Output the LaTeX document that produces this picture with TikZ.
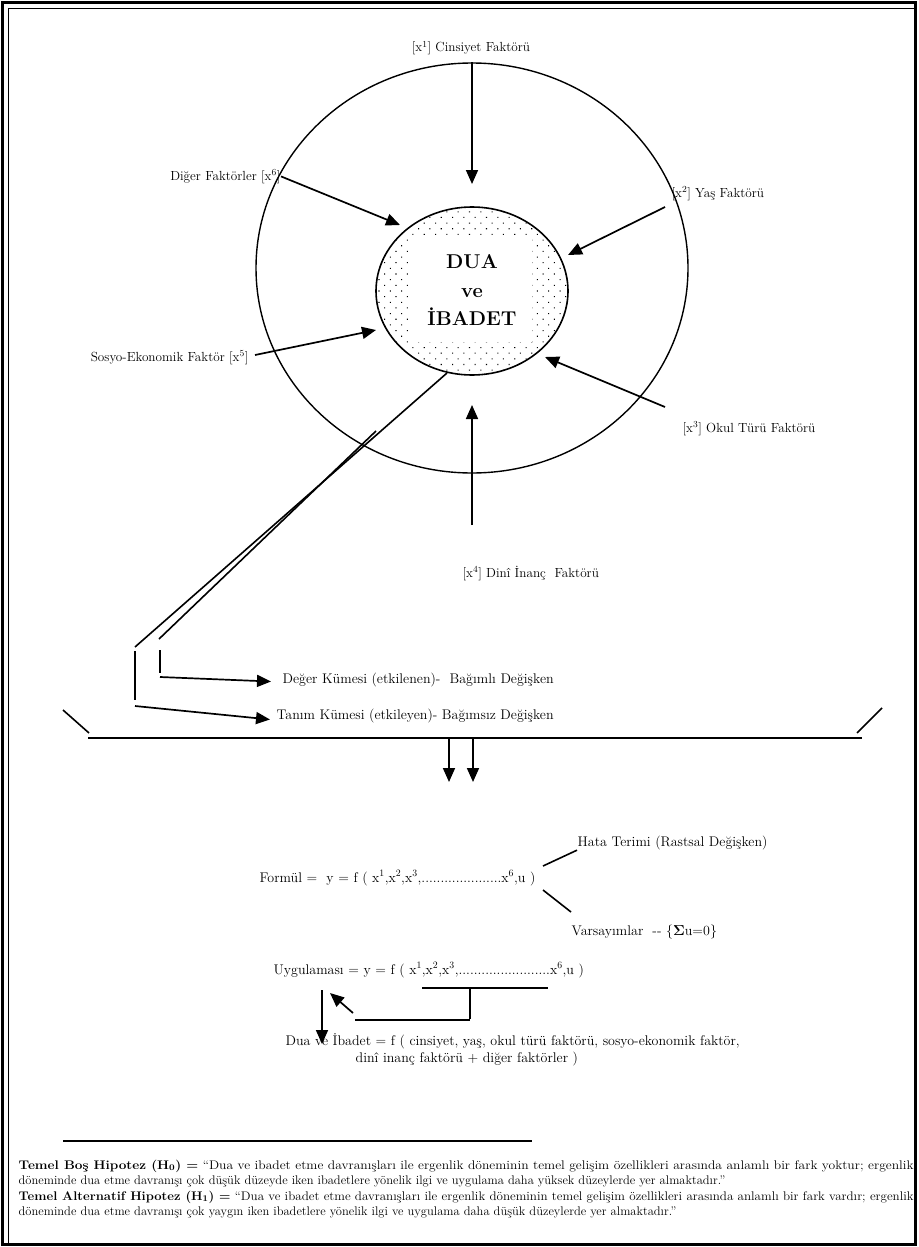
\documentclass[tikz,border=0pt]{standalone}
\usepackage[no-math]{fontspec}
\usetikzlibrary{positioning, arrows.meta, calc, shapes.geometric, patterns.meta}

\begin{document}
\begin{tikzpicture}[
    x=1pt, y=-1pt,              % 1 Einheit = 1 px der Vorlage
    line width=1.3pt,
    >={Triangle[length=14pt, width=12pt]},
    font=\fontsize{13.2}{15}\selectfont,
    lbl/.style={inner sep=0pt, anchor=base west},
    gross/.style={font=\fontsize{14}{17}\selectfont},
    pfeil/.style={->, line width=1.7pt},
    strich/.style={line width=1.6pt},
    core/.style={draw, ellipse, line width=1.6pt, minimum width=192pt, minimum height=168pt,
                 pattern={Dots[radius=0.75pt, distance=8pt, angle=45]}}
]
    \useasboundingbox (0,0) rectangle (918,1247);

    % --- Rahmen ---
    \draw[line width=2.6pt] (2.5,2.5) rectangle (915.5,1244.5);
    \draw[line width=1.2pt] (8.5,1244.5) |- (915.5,8.5);

    % --- Kreise ---
    \node[draw, ellipse, minimum width=432pt, minimum height=410pt, line width=1.4pt] (outer) at (472,268) {};
    \node[core] (core) at (472,291) {};
    \node[fill=white, align=center, minimum width=120pt, minimum height=103pt, inner sep=0pt,
          font=\bfseries\fontsize{20}{28.5}\selectfont] (title) at (472,290) {DUA\\ve\\İBADET};

    % --- Faktoren ---
    \node[lbl, anchor=base] (x1) at (471,52) {[x\textsuperscript{1}] Cinsiyet Faktörü};
    \node[lbl, anchor=base east] (x6) at (281,180) {Diğer Faktörler [x\textsuperscript{6}]};
    \node[lbl] (x2) at (671,197) {[x\textsuperscript{2}] Yaş Faktörü};
    \node[lbl, anchor=base east] (x5) at (249,361) {Sosyo-Ekonomik Faktör [x\textsuperscript{5}]};
    \node[lbl] (x3) at (682,432) {[x\textsuperscript{3}] Okul Türü Faktörü};
    \node[lbl] (x4) at (462,577) {[x\textsuperscript{4}] Dinî İnanç\ \ Faktörü};

    \coordinate (h1) at (472,184);
    \coordinate (h6) at (400,225);
    \coordinate (t5) at (255,355);  \coordinate (h5) at (376,330);
    \coordinate (t2) at (665,207);  \coordinate (h2) at (568,255);
    \coordinate (t3) at (665,407);  \coordinate (h3) at (545,357);
    \coordinate (t4) at (472,525);  \coordinate (h4) at (472,405);

    \draw[pfeil] (outer.north) -- (h1);
    \draw[pfeil] (x6.east) -- (h6);
    \draw[pfeil] (t5) -- (h5);
    \draw[pfeil] (t2) -- (h2);
    \draw[pfeil] (t3) -- (h3);
    \draw[pfeil] (t4) -- (h4);

    % --- Doppellinie nach unten links ---
    \coordinate (dA1) at (447,373);  \coordinate (dA2) at (135,647);
    \coordinate (dB1) at (376,431);  \coordinate (dB2) at (159,639);
    \draw[strich] (dA1) -- (dA2);
    \draw[strich] (dB1) -- (dB2);
    \draw[strich] (135,651) -- (135,700);
    \draw[strich] (160,650) -- (160,673);

    \node[lbl, gross] (deger) at (282,683) {Değer Kümesi (etkilenen)-\ \ Bağımlı Değişken};
    \node[lbl, gross] (tanim) at (276,719) {Tanım Kümesi (etkileyen)- Bağımsız Değişken};
    \coordinate (aB) at (160,677);
    \coordinate (aA) at (135,706);
    \draw[pfeil] (aB) -- ([xshift=-11pt, yshift=-2pt]deger.west);
    \draw[pfeil] (aA) -- ([xshift=-6pt, yshift=-4pt]tanim.west);

    % --- Klammer ---
    \coordinate (bl) at (88,738);
    \coordinate (br) at (862,738);
    \draw[line width=2.3pt] (bl) -- (br);
    \draw[strich] (63,710) -- (89,733);
    \draw[strich] (882,708) -- (857,733);
    \draw[pfeil] (449,738) -- (449,782);
    \draw[pfeil] (473,738) -- (473,782);

    % --- Formel ---
    \node[lbl, gross] (hata) at (577,846) {Hata Terimi (Rastsal Değişken)};
    \node[lbl, gross] (formul) at (259,882) {Formül =\ \ y = f ( x\textsuperscript{1},x\textsuperscript{2},x\textsuperscript{3},.....................x\textsuperscript{6},u )};
    \node[lbl, gross] (vars) at (571,935) {Varsayımlar\ \ -{}- \{$\mathbf{\Sigma}$u=0\}};
    \draw[strich] (543,866) -- (hata.south west);
    \draw[strich] (543,890) -- (571,912);

    % --- Uygulama ---
    \node[lbl, gross] (uyg) at (273,974) {Uygulaması = y = f ( x\textsuperscript{1},x\textsuperscript{2},x\textsuperscript{3},........................x\textsuperscript{6},u )};
    \draw[strich] (422,988) -- (548,988);
    \draw[strich] (470,988) -- (470,1019);
    \draw[strich] (355,1020) -- (470,1020);
    \draw[pfeil] (353,1013) -- (330,993);
    \draw[pfeil] (322,990) -- (322,1044);
    \node[lbl, gross, align=left] (dua) at (285,1062) {Dua ve İbadet = f ( cinsiyet, yaş, okul türü faktörü, sosyo-ekonomik faktör,\\
        \hspace*{70pt}dinî inanç faktörü + diğer faktörler )};

    % --- Hipotezler ---
    \draw (63,1141) -- (532,1141);
    \node[inner sep=0pt, anchor=north west, align=left, font=\fontsize{12.5}{15.5}\selectfont] (hyp) at (18,1159) {%
        \resizebox{895pt}{\height}{\textbf{Temel Boş Hipotez (H\textsubscript{0}) =} “Dua ve ibadet etme davranışları ile ergenlik döneminin temel gelişim özellikleri arasında anlamlı bir fark yoktur; ergenlik}\\
        döneminde dua etme davranışı çok düşük düzeyde iken ibadetlere yönelik ilgi ve uygulama daha yüksek düzeylerde yer almaktadır.”\\
        \resizebox{895pt}{\height}{\textbf{Temel Alternatif Hipotez (H\textsubscript{1}) =} “Dua ve ibadet etme davranışları ile ergenlik döneminin temel gelişim özellikleri arasında anlamlı bir fark vardır; ergenlik}\\
        döneminde dua etme davranışı çok yaygın iken ibadetlere yönelik ilgi ve uygulama daha düşük düzeylerde yer almaktadır.”};

\end{tikzpicture}
\end{document}
